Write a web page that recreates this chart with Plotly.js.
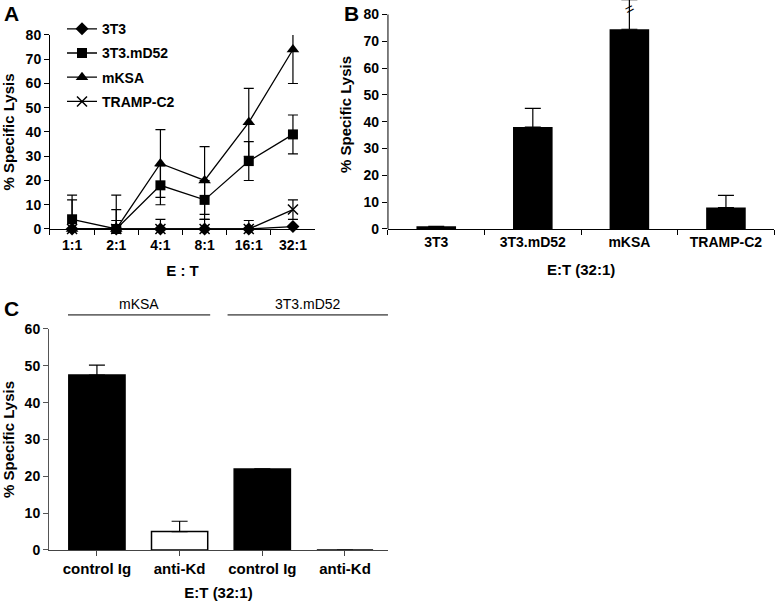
<!DOCTYPE html>
<html>
<head>
<meta charset="utf-8">
<script src="https://cdn.plot.ly/plotly-3.0.1.min.js"></script>
<style>
  html, body { margin: 0; padding: 0; background: #fff; }
  #chart { width: 775px; height: 601px; }
</style>
</head>
<body>
<div id="chart"></div>
<script>
// panel A: lysis vs E:T ratio
var ratios = ['1:1', '2:1', '4:1', '8:1', '16:1', '32:1'];
var lys3T3 = [0, 0, 0, 0, 0, 1];
var lysD52 = [4, 0, 18, 12, 28, 39];
var errD52Up = [10, 8, 8, 8, 8, 8];
var errD52Dn = [4, 0, 8, 8, 8, 8];
var lysKSA = [0, 0, 27, 20, 44, 74];
var errKSAUp = [0, 14, 14, 14, 14, 8];
var errKSADn = [0, 0, 14, 14, 14, 14];
var lysTramp = [0, 0, 0, 0, 0, 8];
var errTrampUp = [12, 3.5, 4, 4, 3.5, 4];
var errTrampDn = [0, 0, 0, 0, 0, 4];

// panel B: 32:1 only
var targetsB = ['3T3', '3T3.mD52', 'mKSA', 'TRAMP-C2'];
var lysB = [1, 38, 74.5, 8];
var errB = [0, 7, 11, 4.5];

// panel C: antibody blocking
var groupsC = ['mKSA', 'mKSA', '3T3.mD52', '3T3.mD52'];
var treatC = ['control Ig', 'anti-Kd', 'control Ig', 'anti-Kd'];
var lysC = [47.5, 5, 22, 0];
var errC = [2.7, 2.8, 0, 0];
var fillC = ['black', 'white', 'black', 'white'];

var bold = { family: 'Liberation Sans, Arial, sans-serif', size: 14, color: 'black', weight: 700 };
function f(size) { return Object.assign({}, bold, { size: size }); }
var plain = { family: 'Liberation Sans, Arial, sans-serif', size: 14, color: 'black' };

function errBar(up, dn) {
    return { type: 'data', symmetric: false, array: up, arrayminus: dn,
             color: 'black', thickness: 1.2, width: 5 };
}
function zeros(a) { return a.map(function () { return 0; }); }

var lineStyle = { color: 'black', width: 1.3 };
var traces = [
    { x: ratios, y: lys3T3, name: '3T3', legendgroup: 'a', mode: 'lines+markers',
      line: lineStyle, marker: { symbol: 'diamond', size: 10, color: 'black' },
      cliponaxis: false, xaxis: 'x', yaxis: 'y' },
    { x: ratios, y: lysD52, name: '3T3.mD52', legendgroup: 'b', mode: 'lines+markers',
      line: lineStyle, marker: { symbol: 'square', size: 10, color: 'black' },
      error_y: errBar(errD52Up, errD52Dn), cliponaxis: false, xaxis: 'x', yaxis: 'y' },
    { x: ratios, y: lysKSA, name: 'mKSA', legendgroup: 'c', mode: 'lines+markers',
      line: lineStyle, marker: { symbol: 'triangle-up', size: 11, color: 'black' },
      error_y: errBar(errKSAUp, errKSADn), cliponaxis: false, xaxis: 'x', yaxis: 'y' },
    { x: ratios, y: lysTramp, name: 'TRAMP-C2', legendgroup: 'd', mode: 'lines+markers',
      line: lineStyle, marker: { symbol: 'x-thin', size: 10, color: 'black', line: { color: 'black', width: 1.5 } },
      error_y: errBar(errTrampUp, errTrampDn), cliponaxis: false, xaxis: 'x', yaxis: 'y' },
    { type: 'bar', x: targetsB, y: lysB, width: 0.41, showlegend: false,
      marker: { color: 'black' },
      error_y: { type: 'data', symmetric: false, array: errB, arrayminus: zeros(errB),
                 color: 'black', thickness: 1.2, width: 8 },
      xaxis: 'x2', yaxis: 'y2' },
    { type: 'bar', x: treatC.map(function (t, i) { return i; }), y: lysC, width: 0.68, showlegend: false,
      marker: { color: fillC, line: { color: 'black', width: 1.5 } },
      error_y: { type: 'data', symmetric: false, array: errC, arrayminus: zeros(errC),
                 color: 'black', thickness: 1.2, width: 8 },
      xaxis: 'x3', yaxis: 'y3' }
];

function yAx(dom, rng, col) {
    return { domain: dom, range: rng, tick0: 0, dtick: 10, ticks: 'outside', ticklen: 5,
             tickcolor: col, linecolor: col, showline: true, zeroline: false, showgrid: false,
             tickfont: f(14), title: { text: '% Specific Lysis', font: f(15), standoff: 8 } };
}

var yB = yAx([0.619, 1.0], [0, 85.4], 'black');
yB.showline = false;
yB.tickvals = [0, 10, 20, 30, 40, 50, 60, 70, 80];

var cGroupNames = [groupsC[0], groupsC[2]];
var layout = {
    width: 775, height: 601,
    margin: { l: 0, r: 0, t: 0, b: 0 },
    paper_bgcolor: 'white', plot_bgcolor: 'white',
    showlegend: true,
    legend: { x: 0.08, y: 0.978, xanchor: 'left', yanchor: 'top', font: f(14),
              traceorder: 'grouped', tracegroupgap: 3, bgcolor: 'rgba(0,0,0,0)' },
    xaxis: { domain: [0.0645, 0.4065], type: 'category', range: [-0.5, 5.5], anchor: 'y',
             tickson: 'boundaries', ticks: 'outside', ticklen: 5, showline: true, linecolor: 'black',
             tickcolor: 'black', showgrid: false, tickfont: f(14), ticklabelstandoff: 3,
             title: { text: 'E : T', font: f(15), standoff: 13 } },
    yaxis: Object.assign(yAx([0.619, 0.9418], [0, 80], 'black'), { anchor: 'x' }),
    xaxis2: { domain: [0.5006, 0.999], type: 'category', range: [-0.5, 3.5], anchor: 'y2',
              tickson: 'boundaries', ticks: 'outside', ticklen: 5, showline: true, linecolor: 'black',
              tickcolor: 'black', showgrid: false, tickfont: f(14),
              title: { text: 'E:T (32:1)', font: f(15), standoff: 15 } },
    yaxis2: Object.assign(yB, { anchor: 'x2' }),
    xaxis3: { domain: [0.0632, 0.5006], range: [-0.58, 3.52], anchor: 'y3',
              tickvals: treatC.map(function (t, i) { return i; }), ticktext: treatC,
              ticks: 'outside', ticklen: 5, showline: true, linecolor: '#444', tickcolor: '#444',
              zeroline: false, showgrid: false, tickfont: f(15),
              title: { text: 'E:T (32:1)', font: f(15), standoff: 11 } },
    yaxis3: Object.assign(yAx([0.0849, 0.4526], [0, 60], '#555'), { anchor: 'x3' }),
    shapes: [
        // axis line of panel B stops at 80
        { type: 'line', xref: 'x2 domain', yref: 'y2', x0: 0, x1: 0, y0: 0, y1: 80,
          line: { color: 'black', width: 1 } },
        // group lines over panel C
        { type: 'line', xref: 'x3', yref: 'paper', x0: -0.35, x1: 1.37, y0: 0.476, y1: 0.476,
          line: { color: 'black', width: 1 } },
        { type: 'line', xref: 'x3', yref: 'paper', x0: 1.58, x1: 3.52, y0: 0.476, y1: 0.476,
          line: { color: 'black', width: 1 } }
    ],
    annotations: [
        { text: 'A', xref: 'paper', yref: 'paper', x: 0.003, y: 0.977, xanchor: 'left', yanchor: 'middle',
          showarrow: false, font: f(21) },
        { text: 'B', xref: 'paper', yref: 'paper', x: 0.441, y: 0.977, xanchor: 'left', yanchor: 'middle',
          showarrow: false, font: f(21) },
        { text: 'C', xref: 'paper', yref: 'paper', x: 0.003, y: 0.487, xanchor: 'left', yanchor: 'middle',
          showarrow: false, font: f(21) },
        { text: cGroupNames[0], xref: 'x3', yref: 'paper', x: 0.51, y: 0.494, yanchor: 'middle',
          showarrow: false, font: plain },
        { text: cGroupNames[1], xref: 'x3', yref: 'paper', x: 2.55, y: 0.494, yanchor: 'middle',
          showarrow: false, font: plain },
        // break mark on the mKSA error bar
        { text: '=', xref: 'x2', yref: 'y2', x: targetsB[2], y: lysB[2] + errB[2] - 3.3,
          showarrow: false, textangle: -28, font: { family: 'Liberation Sans, Arial', size: 15, color: 'black' } }
    ]
};

Plotly.newPlot('chart', traces, layout, { staticPlot: true });
</script>
</body>
</html>
